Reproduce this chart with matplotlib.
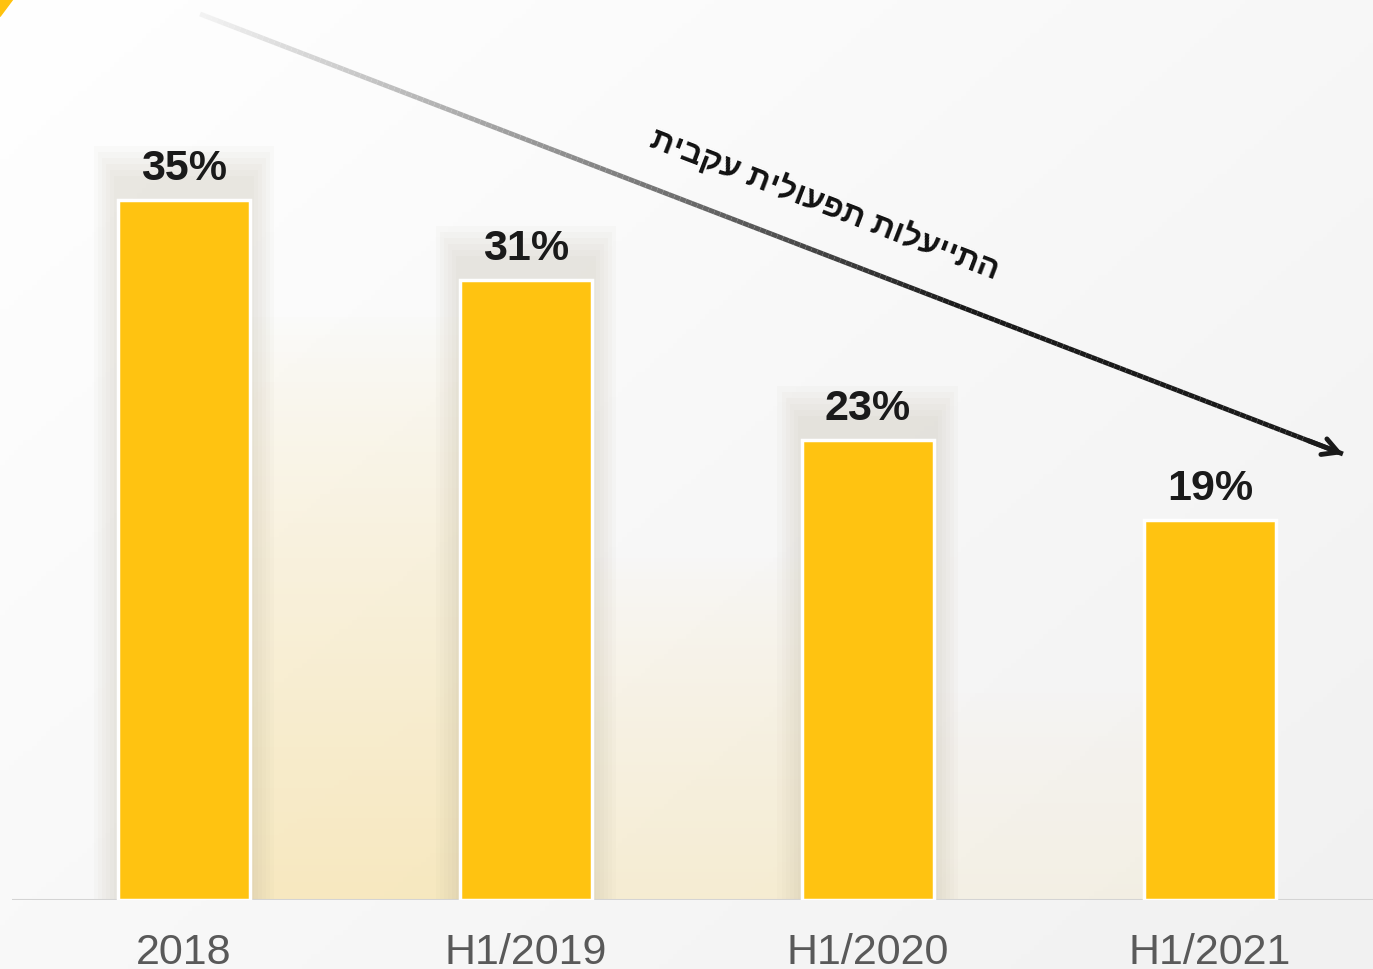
import matplotlib
matplotlib.use("Agg")
import matplotlib.pyplot as plt
import numpy as np
from matplotlib.collections import LineCollection
from matplotlib.colors import LinearSegmentedColormap
from matplotlib.patches import Polygon, Rectangle

# data
categories = ["2018", "H1/2019", "H1/2020", "H1/2021"]
values = [35, 31, 23, 19]
value_labels = ["35%", "31%", "23%", "19%"]
trend_label = "התייעלות תפעולית עקבית"

bar_color = "#FFC311"
fonts = ["Liberation Sans", "DejaVu Sans"]

fig = plt.figure(figsize=(13.73, 9.70), dpi=100)

# background gradient
bg = fig.add_axes([0, 0, 1, 1], zorder=-10)
gx, gy = np.meshgrid(np.linspace(0, 1, 300), np.linspace(0, 1, 200))
grad = 0.55 * gx + 0.45 * gy
bg_cmap = LinearSegmentedColormap.from_list("bg", ["#ffffff", "#f1f1f1"])
bg.imshow(grad, cmap=bg_cmap, aspect="auto", extent=[0, 1, 0, 1], origin="upper")
bg.axis("off")
# yellow corner
bg.add_patch(Polygon([[0, 1], [0.0095, 1], [0, 0.982]], closed=True,
                     color="#FFC20E", transform=bg.transAxes))

ax = fig.add_axes([12 / 1373, 69 / 970, 1 - 12 / 1373, 1 - 69 / 970])
ax.patch.set_alpha(0)
x = np.arange(len(categories))
width = 0.385

# soft haze / shadows behind first three bars
for i in range(len(values) - 1):
    h = values[i]
    for k in range(6):
        pad = 0.012 + 0.012 * k
        ax.add_patch(Rectangle((x[i] - width / 2 - pad, 0), width + 2 * pad, h + 1.2 + 0.3 * k,
                               color="#b0a890", alpha=0.045, lw=0, zorder=1))
    # yellow haze between bars
    left = x[i] + width / 2
    right = x[i + 1] - width / 2
    top = values[i + 1] * (0.95 - 0.2 * i)
    ys = np.linspace(0, 1, 100).reshape(-1, 1)
    alpha = np.clip(1 - ys, 0, 1) ** 0.8 * (0.7 - 0.25 * i)
    rgba = np.zeros((100, 1, 4))
    rgba[..., 0] = 0.97
    rgba[..., 1] = 0.89
    rgba[..., 2] = 0.66
    rgba[..., 3] = alpha
    ax.imshow(rgba, extent=[left, right, 0, top], origin="lower", aspect="auto", zorder=0.5)
ax.set_xlim(-0.503, 3.477)
ax.set_ylim(0, 45.05)

bars = ax.bar(x, values, width=width, color=bar_color, edgecolor="white", linewidth=2.5, zorder=3)

for xi, v, lab in zip(x, values, value_labels):
    ax.text(xi, v + 0.6, lab, ha="center", va="bottom", fontsize=31, fontweight="bold",
            color="#1a1a1a", family=fonts, zorder=5)

# baseline
ax.axhline(0, color="#d4d4d4", lw=2.2, zorder=2)

ax.set_xticks(x)
ax.set_xticklabels(categories, fontsize=31, color="#595959", family=fonts)
ax.tick_params(axis="x", length=0, pad=23)
ax.set_yticks([])
for s in ax.spines.values():
    s.set_visible(False)

# trend arrow with gradient
start = np.array([0.047, 44.3])
end = np.array([3.389, 22.3])
n = 200
pts = np.linspace(start, end, n + 1)
segs = np.stack([pts[:-1], pts[1:]], axis=1)
arrow_cmap = LinearSegmentedColormap.from_list("arr", ["#f2f2f2", "#8a8a8a", "#1a1a1a", "#1a1a1a"])
lc = LineCollection(segs, cmap=arrow_cmap, linewidths=3.5, zorder=6, capstyle="butt")
lc.set_array(np.linspace(0, 1, n))
ax.add_collection(lc)
ax.annotate("", xy=end, xytext=start + (end - start) * 0.97,
            arrowprops=dict(arrowstyle="->,head_length=1.1,head_width=0.6", lw=3.5,
                            color="#1a1a1a", shrinkA=0, shrinkB=0), zorder=7)

ax.text(1.874, 34.8, trend_label[::-1], rotation=-21.05, rotation_mode="anchor",
        ha="center", va="center", fontsize=23, fontweight="bold", color="#111111",
        family=fonts, zorder=6)

fig.savefig("out.png", dpi=100)
